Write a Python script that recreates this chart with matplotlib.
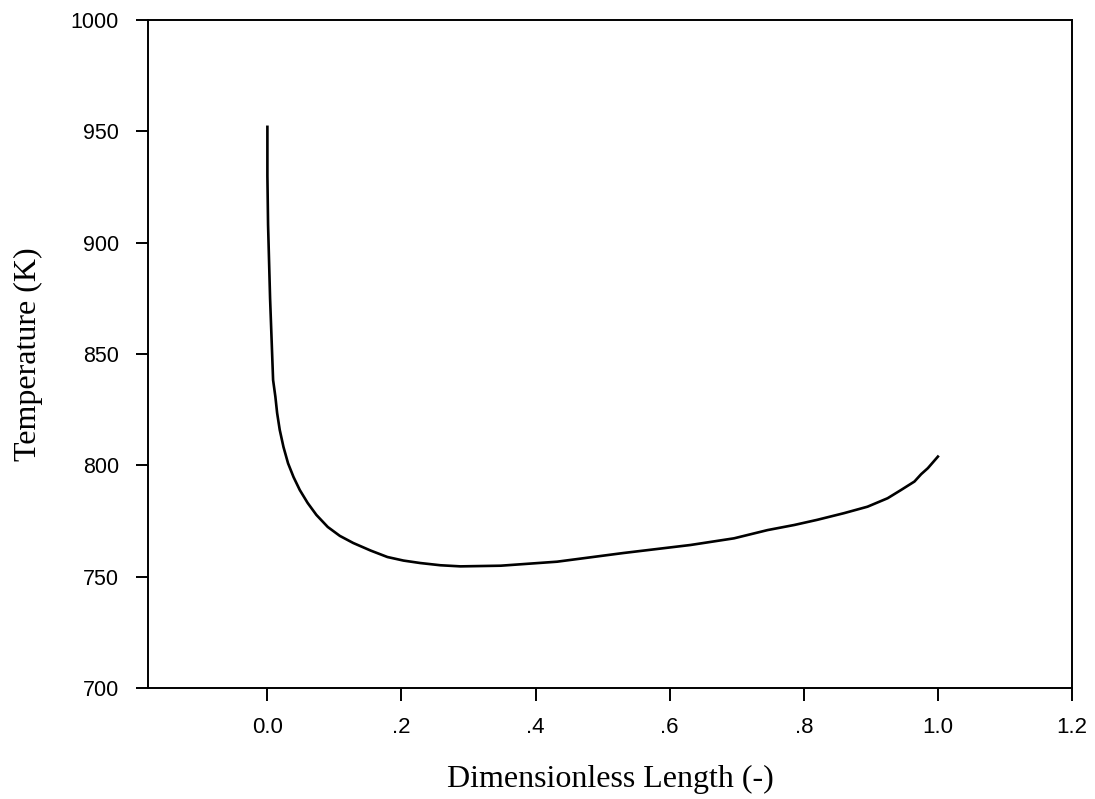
import numpy as np
import matplotlib.pyplot as plt

# values
length = [0.0, 0.0, 0.001, 0.004, 0.0085, 0.0119, 0.0145, 0.0184, 0.024, 0.0308,
          0.039, 0.0483, 0.060, 0.0731, 0.090, 0.108, 0.128, 0.154, 0.179,
          0.203, 0.228, 0.258, 0.288, 0.348, 0.432, 0.531, 0.631, 0.696,
          0.746, 0.786, 0.820, 0.860, 0.895, 0.925, 0.945, 0.965, 0.975,
          0.985, 1.0]
temperature = [952.0, 930.0, 908.0, 875.0, 838.3, 830.8, 823.5, 815.9, 808.2, 800.9,
               794.7, 788.9, 783.1, 777.7, 772.3, 768.3, 765.1, 761.7, 758.8,
               757.2, 756.1, 755.1, 754.6, 754.9, 756.7, 760.6, 764.2, 767.2,
               770.9, 773.2, 775.5, 778.5, 781.4, 785.2, 788.9, 792.7, 796.0,
               798.7, 803.9]

xticks = [0.0, 0.2, 0.4, 0.6, 0.8, 1.0, 1.2]
xticklabels = ["0.0", ".2", ".4", ".6", ".8", "1.0", "1.2"]
yticks = [700, 750, 800, 850, 900, 950, 1000]

fig = plt.figure(figsize=(10.95, 7.99), dpi=100)
ax = fig.add_axes([0.1352, 0.139, 0.8438, 0.836])

ax.plot(length, temperature, color="black", linewidth=1.9)

ax.set_xlim(-0.178, 1.2)
ax.set_ylim(700, 1000)
ax.set_xticks(xticks)
ax.set_xticklabels(xticklabels)
ax.set_yticks(yticks)

for s in ax.spines.values():
    s.set_linewidth(1.4)

ax.tick_params(direction="out", length=9, width=1.4, top=False, right=False)
ax.tick_params(axis="y", pad=12, labelsize=15.5)
ax.tick_params(axis="x", pad=12, labelsize=16)
for lab in ax.get_xticklabels() + ax.get_yticklabels():
    lab.set_family("Liberation Sans")

ax.set_xlabel("Dimensionless Length (-)", family="Liberation Serif", fontsize=23, labelpad=19)
ax.set_ylabel("Temperature (K)", family="Liberation Serif", fontsize=23, labelpad=20)

fig.savefig("out.png", dpi=100)
